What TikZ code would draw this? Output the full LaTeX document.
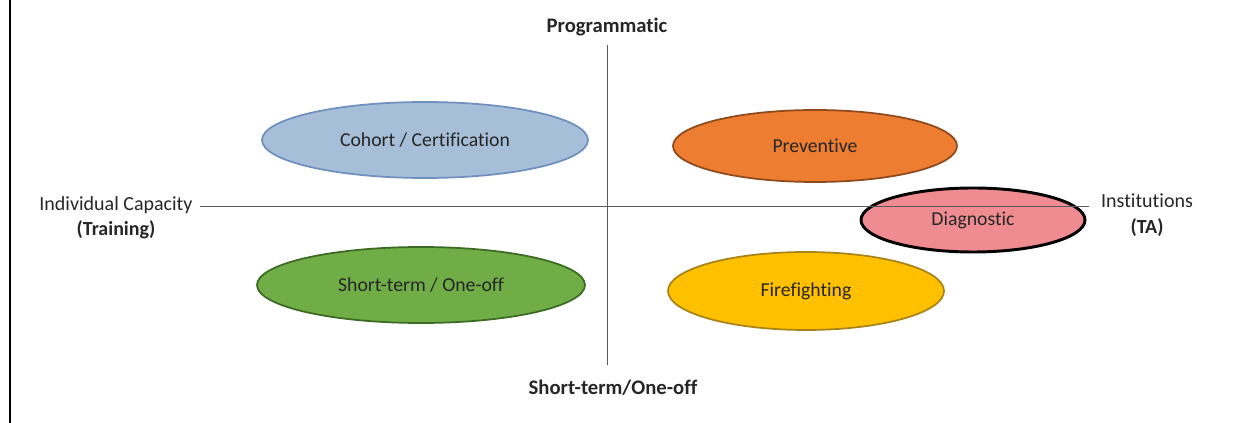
\documentclass[tikz,border=0pt]{standalone}
\usepackage{fontspec}
\setmainfont{Carlito}[Ligatures={NoCommon}]
\usetikzlibrary{shapes.geometric}
\definecolor{cohortfill}{HTML}{A6BED8}
\definecolor{cohortdraw}{HTML}{6F8FBE}
\definecolor{prevfill}{HTML}{ED7D31}
\definecolor{prevdraw}{HTML}{8E4A1C}
\definecolor{diagfill}{HTML}{EE8C91}
\definecolor{shortfill}{HTML}{70AD47}
\definecolor{shortdraw}{HTML}{3B6A22}
\definecolor{firefill}{HTML}{FFC000}
\definecolor{firedraw}{HTML}{A88418}
\definecolor{txt}{HTML}{262626}
\definecolor{axis}{HTML}{5A5A5A}
\tikzset{
  ell/.style={ellipse, inner sep=0pt, line width=1.3pt, font=\fontsize{14.8}{17}\selectfont, text=txt},
  axislabel/.style={font=\fontsize{15}{18}\selectfont, text=txt, align=center, inner sep=0pt},
  axisline/.style={draw=axis, line width=0.75pt}
}
\begin{document}
\begin{tikzpicture}[x=0.75pt,y=-0.75pt]
\useasboundingbox (0,0) rectangle (1234,423);
\fill[white] (0,0) rectangle (1234,423);
\draw[line width=1.5pt] (10,0) -- (10,423);
% ellipses
\node[ell, fill=cohortfill, draw=cohortdraw, minimum width=244.5pt, minimum height=57pt] (cohort) at (425,140) {Cohort / Certification};
\node[ell, fill=prevfill, draw=prevdraw, minimum width=213pt, minimum height=54pt] (prev) at (815,146) {Preventive};
\node[ell, fill=diagfill, draw=black, line width=2.2pt, minimum width=168pt, minimum height=48pt] (diag) at (973,220) {Diagnostic};
\node[ell, fill=shortfill, draw=shortdraw, minimum width=246pt, minimum height=57pt] (short) at (421,285) {Short-term / One-off};
\node[ell, fill=firefill, draw=firedraw, minimum width=207pt, minimum height=58.5pt] (fire) at (806,291) {Firefighting};
% axis labels
\node[axislabel, font=\fontsize{15.5}{18}\selectfont\bfseries] (top) at (607,27) {Programmatic};
\node[axislabel, font=\fontsize{15.5}{18}\selectfont\bfseries] (bottom) at (613,388) {Short-term/One-off};
\node[axislabel] (left) at (116,218) {Individual Capacity\\[1pt]\textbf{(Training)}};
\node[axislabel] (right) at (1147,215) {Institutions\\[1pt]\textbf{(TA)}};
% axes
\coordinate (vt) at (607,45);
\coordinate (vb) at (607,365);
\coordinate (hl) at (200,207);
\coordinate (hr) at (1089,207);
\draw[axisline] (vt) -- (vb);
\draw[axisline] (hl) -- (hr);
\end{tikzpicture}
\end{document}
